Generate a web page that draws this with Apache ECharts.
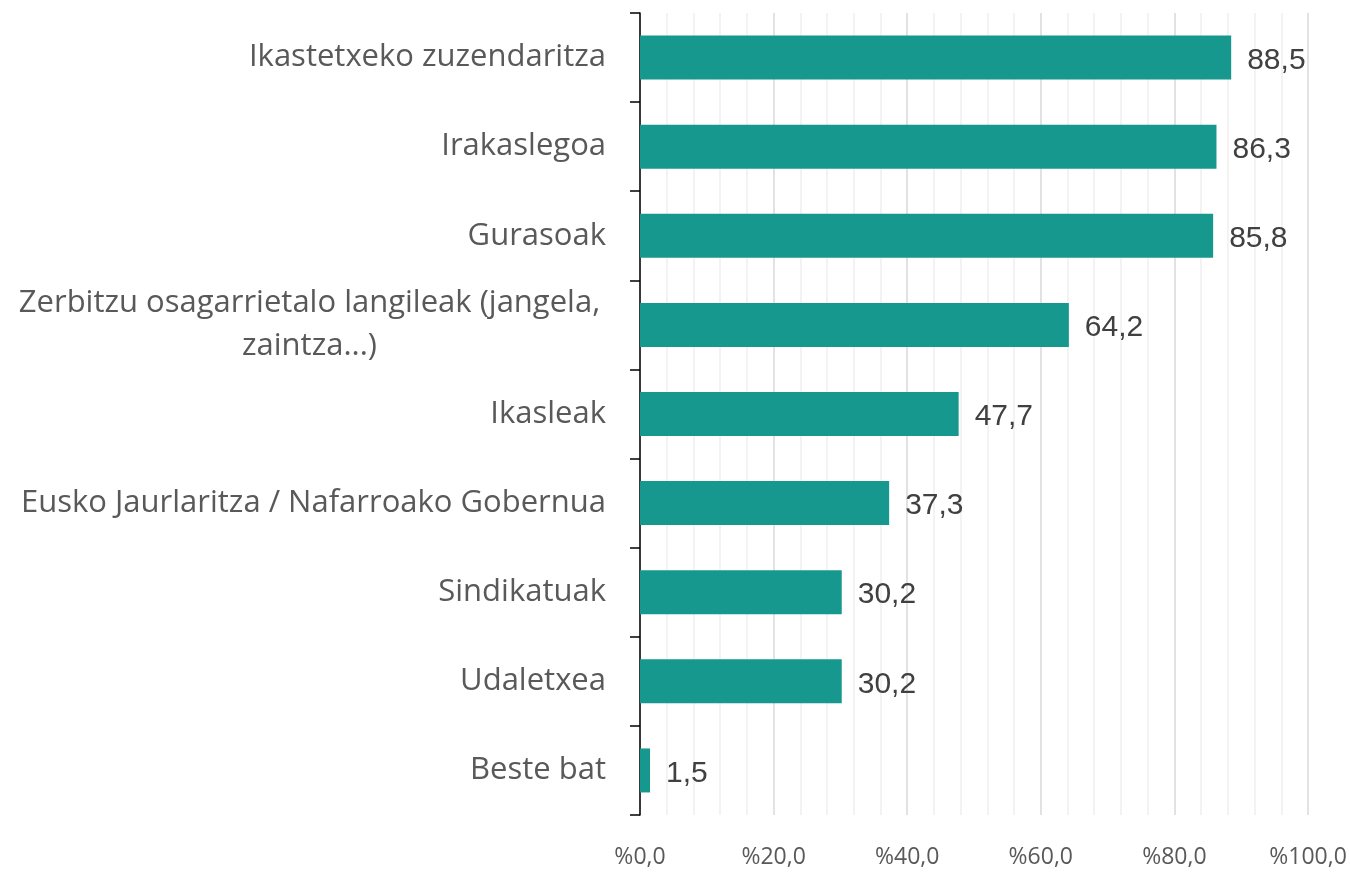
<!DOCTYPE html>
<html>
<head>
<meta charset="utf-8">
<title>Bar chart</title>
<script src="https://cdn.jsdelivr.net/npm/echarts@6/dist/echarts.min.js"></script>
<style>
  html, body { margin: 0; padding: 0; background: #fff; }
  #main { width: 1350px; height: 873px; }
</style>
</head>
<body>
<div id="main"></div>
<script>
var categories = [
  'Ikastetxeko zuzendaritza',
  'Irakaslegoa',
  'Gurasoak',
  'Zerbitzu osagarrietalo langileak (jangela,\nzaintza...)',
  'Ikasleak',
  'Eusko Jaurlaritza / Nafarroako Gobernua',
  'Sindikatuak',
  'Udaletxea',
  'Beste bat'
];
var values = [88.5, 86.3, 85.8, 64.2, 47.7, 37.3, 30.2, 30.2, 1.5];
var xTicks = [0, 20, 40, 60, 80, 100];

function comma(v) {
  return Number(v).toFixed(1).replace('.', ',');
}

var chart = echarts.init(document.getElementById('main'));
chart.setOption({
  animation: false,
  grid: {
    left: 640,
    right: 42,
    top: 13,
    bottom: 58
  },
  xAxis: {
    type: 'value',
    min: xTicks[0],
    max: xTicks[xTicks.length - 1],
    interval: 20,
    axisLine: { show: false },
    axisTick: { show: false },
    axisLabel: {
      margin: 31,
      color: '#595959',
      fontFamily: 'Open Sans',
      fontSize: 23,
      formatter: function(v) { return '%' + comma(v); }
    },
    splitLine: {
      show: true,
      lineStyle: { color: '#d9d9d9', width: 1.5 }
    },
    minorTick: { show: false, splitNumber: 5 },
    minorSplitLine: {
      show: true,
      lineStyle: { color: '#efefef', width: 1.5 }
    }
  },
  yAxis: {
    type: 'category',
    inverse: true,
    data: categories,
    axisLine: { show: true, lineStyle: { color: '#000', width: 1.5 } },
    axisTick: { show: true, length: 10, lineStyle: { color: '#000', width: 1.5 } },
    axisLabel: {
      margin: 34,
      color: '#595959',
      fontFamily: 'Open Sans',
      fontSize: 31,
      formatter: function(v) {
        if (v.indexOf('\n') >= 0) {
          return v.split('\n').map(function(s) { return '{w|' + s + '}'; }).join('\n');
        }
        return v;
      },
      rich: {
        w: {
          width: 593,
          align: 'center',
          color: '#595959',
          fontFamily: 'Open Sans',
          fontSize: 31,
          lineHeight: 43
        }
      }
    }
  },
  series: [{
    type: 'bar',
    data: values,
    barWidth: 44,
    itemStyle: { color: '#16988f' },
    label: {
      show: true,
      position: 'right',
      distance: 16,
      offset: [0, 3],
      color: '#404040',
      fontFamily: 'Liberation Sans',
      fontSize: 30,
      formatter: function(p) { return comma(p.value); }
    }
  }]
});
</script>
</body>
</html>
